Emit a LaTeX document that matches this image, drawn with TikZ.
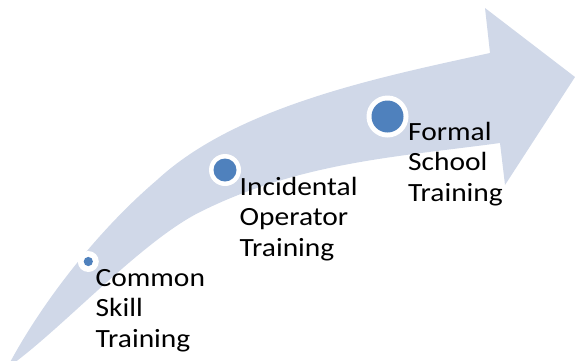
\documentclass[tikz,border=0pt]{standalone}
\usepackage{fontspec}
\newfontfamily\labfont[FakeStretch=1.12]{Carlito}
\definecolor{arrowfill}{RGB}{208,216,232}
\definecolor{dotblue}{RGB}{79,129,189}
\tikzset{
  ring/.style={circle, fill=white, inner sep=0pt},
  dot/.style={circle, fill=dotblue, inner sep=0pt},
  lab/.style={anchor=base west, inner sep=0pt, font=\labfont\fontsize{26.3}{30.5}\selectfont}
}
\newcommand{\stacklines}[3]{\vtop{\baselineskip=30.5pt\hbox{#1}\hbox{#2}\hbox{#3}}}
\begin{document}
\begin{tikzpicture}[x=1pt,y=-1pt]
\useasboundingbox (0,0) rectangle (575,360);
\begin{scope}
\clip (0,0) rectangle (575,360);
\fill[arrowfill] (7,368) .. controls (40,305) and (96,232) .. (157,180)
  .. controls (237,106) and (380,77) .. (490,53)
  -- (485,8) -- (575,77) -- (505,185) -- (500,143)
  .. controls (400,156.6) and (300,162) .. (200,212)
  .. controls (140,242) and (58,333) .. (7,368) -- cycle;
\end{scope}
% circles
\node[ring, minimum size=21pt] (r1) at (88.3,261.5) {};
\node[dot, minimum size=9.2pt] (d1) at (r1.center) {};
\node[ring, minimum size=32pt] (r2) at (225,170) {};
\node[dot, minimum size=23pt] (d2) at (r2.center) {};
\node[ring, minimum size=42pt] (r3) at (387.5,116.5) {};
\node[dot, minimum size=32pt] (d3) at (r3.center) {};
% labels
\node[lab] (t1) at (95.5,286) {\stacklines{Common}{Skill}{Training}};
\node[lab] (t2) at (239.5,195) {\stacklines{Incidental}{Operator}{Training}};
\node[lab] (t3) at (408,140) {\stacklines{Formal}{School}{Training}};
\end{tikzpicture}
\end{document}
